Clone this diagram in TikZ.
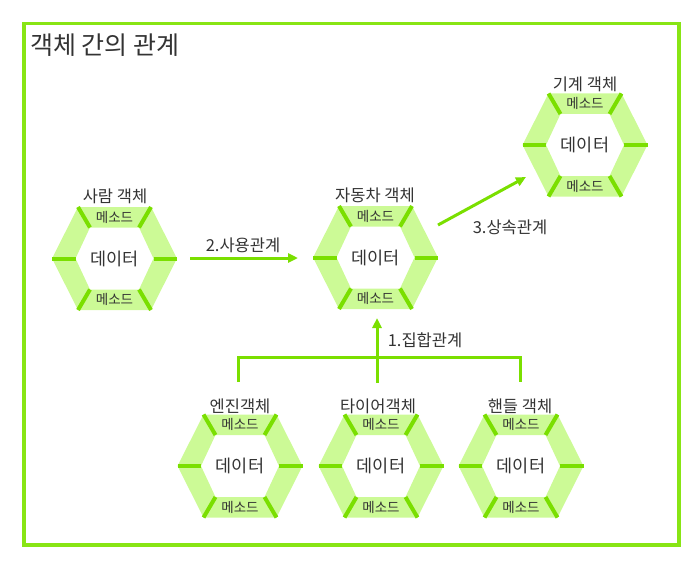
\documentclass[tikz,border=0pt]{standalone}
\usepackage{fontspec}
\setmainfont{Noto Sans CJK KR}
\usetikzlibrary{arrows.meta}
\definecolor{ringfill}{HTML}{CCFA96}
\definecolor{divgreen}{HTML}{7ADF00}
\definecolor{framegreen}{HTML}{88E514}
\definecolor{txt}{HTML}{333333}
\tikzset{
  divline/.style={draw=divgreen, line width=4pt},
  methodtxt/.style={font=\fontsize{13.5}{13.5}\selectfont, text=txt, inner sep=0pt},
  datatxt/.style={font=\fontsize{17.5}{17.5}\selectfont, text=txt, inner sep=0pt},
  titletxt/.style={font=\fontsize{16.5}{16.5}\selectfont, text=txt, inner sep=0pt},
  reltxt/.style={font=\fontsize{16.5}{16.5}\selectfont, text=txt, inner sep=0pt},
  conn/.style={draw=divgreen, line width=3pt},
  arr/.style={conn, -{Triangle[length=10pt,width=9pt]}},
  hexa/.pic={
    \fill[ringfill, even odd rule]
      (-62.5,0)--(-36.5,51.5)--(36.5,51.5)--(62.5,0)--(36.5,-51.5)--(-36.5,-51.5)--cycle
      (-39,0)--(-24.5,31)--(24.5,31)--(39,0)--(24.5,-31)--(-24.5,-31)--cycle;
    \draw[divline] (-62.5,0)--(-39,0);
    \draw[divline] (62.5,0)--(39,0);
    \draw[divline] (-36.5,51.5)--(-24.5,31);
    \draw[divline] (36.5,51.5)--(24.5,31);
    \draw[divline] (-36.5,-51.5)--(-24.5,-31);
    \draw[divline] (36.5,-51.5)--(24.5,-31);
    \node[methodtxt] (-mtop) at (0,-41.5) {메소드};
    \node[methodtxt] (-mbot) at (0,41) {메소드};
    \node[datatxt] (-data) at (0,0) {데이터};
  }
}
\begin{document}
\begin{tikzpicture}[x=1pt,y=-1pt]
\useasboundingbox (0,0) rectangle (698,567);
% frame
\node[draw=framegreen, line width=3.5pt, minimum width=655pt, minimum height=521pt, inner sep=0pt, anchor=north west] (frame) at (22,22) {};
\node[font=\fontsize{25}{25}\selectfont, text=txt, inner sep=0pt, anchor=west] (title) at (30,45) {객체 간의 관계};

% hexagons
\coordinate (person) at (114.5,258.5);
\coordinate (car) at (375.5,257.5);
\coordinate (machine) at (585,145);
\coordinate (engine) at (240,466);
\coordinate (tire) at (381,466);
\coordinate (handle) at (521,466);

\pic (hp) at (person) {hexa};
\pic (hc) at (car) {hexa};
\pic (hm) at (machine) {hexa};
\pic (he) at (engine) {hexa};
\pic (ht) at (tire) {hexa};
\pic (hh) at (handle) {hexa};

\node[titletxt] (lp) at (115,196) {사람 객체};
\node[titletxt] (lc) at (375,195) {자동차 객체};
\node[titletxt] (lm) at (585,84) {기계 객체};
\node[titletxt] (le) at (240,406) {엔진객체};
\node[titletxt] (lt) at (378,406) {타이어객체};
\node[titletxt] (lh) at (520,406) {핸들 객체};

% 2. use relation
\coordinate (u1) at (190,258);
\coordinate (u2) at (298,258);
\draw[arr] (u1) -- (u2);
\node[reltxt] (ul) at (243,245) {2.사용관계};

% 3. inheritance
\coordinate (i1) at (438,225);
\coordinate (i2) at (526,177);
\draw[arr] (i1) -- (i2);
\node[reltxt] (il) at (510,227) {3.상속관계};

% 1. aggregation
\coordinate (a1) at (238,382);
\coordinate (a1t) at (238,357);
\coordinate (a3) at (520,382);
\coordinate (a3t) at (520,357);
\coordinate (a2) at (377,383);
\coordinate (a2t) at (377,318);
\draw[conn] (a1) -- (a1t) -- (a3t) -- (a3);
\draw[arr] (a2) -- (a2t);
\node[reltxt] (al) at (425,340) {1.집합관계};
\end{tikzpicture}
\end{document}
